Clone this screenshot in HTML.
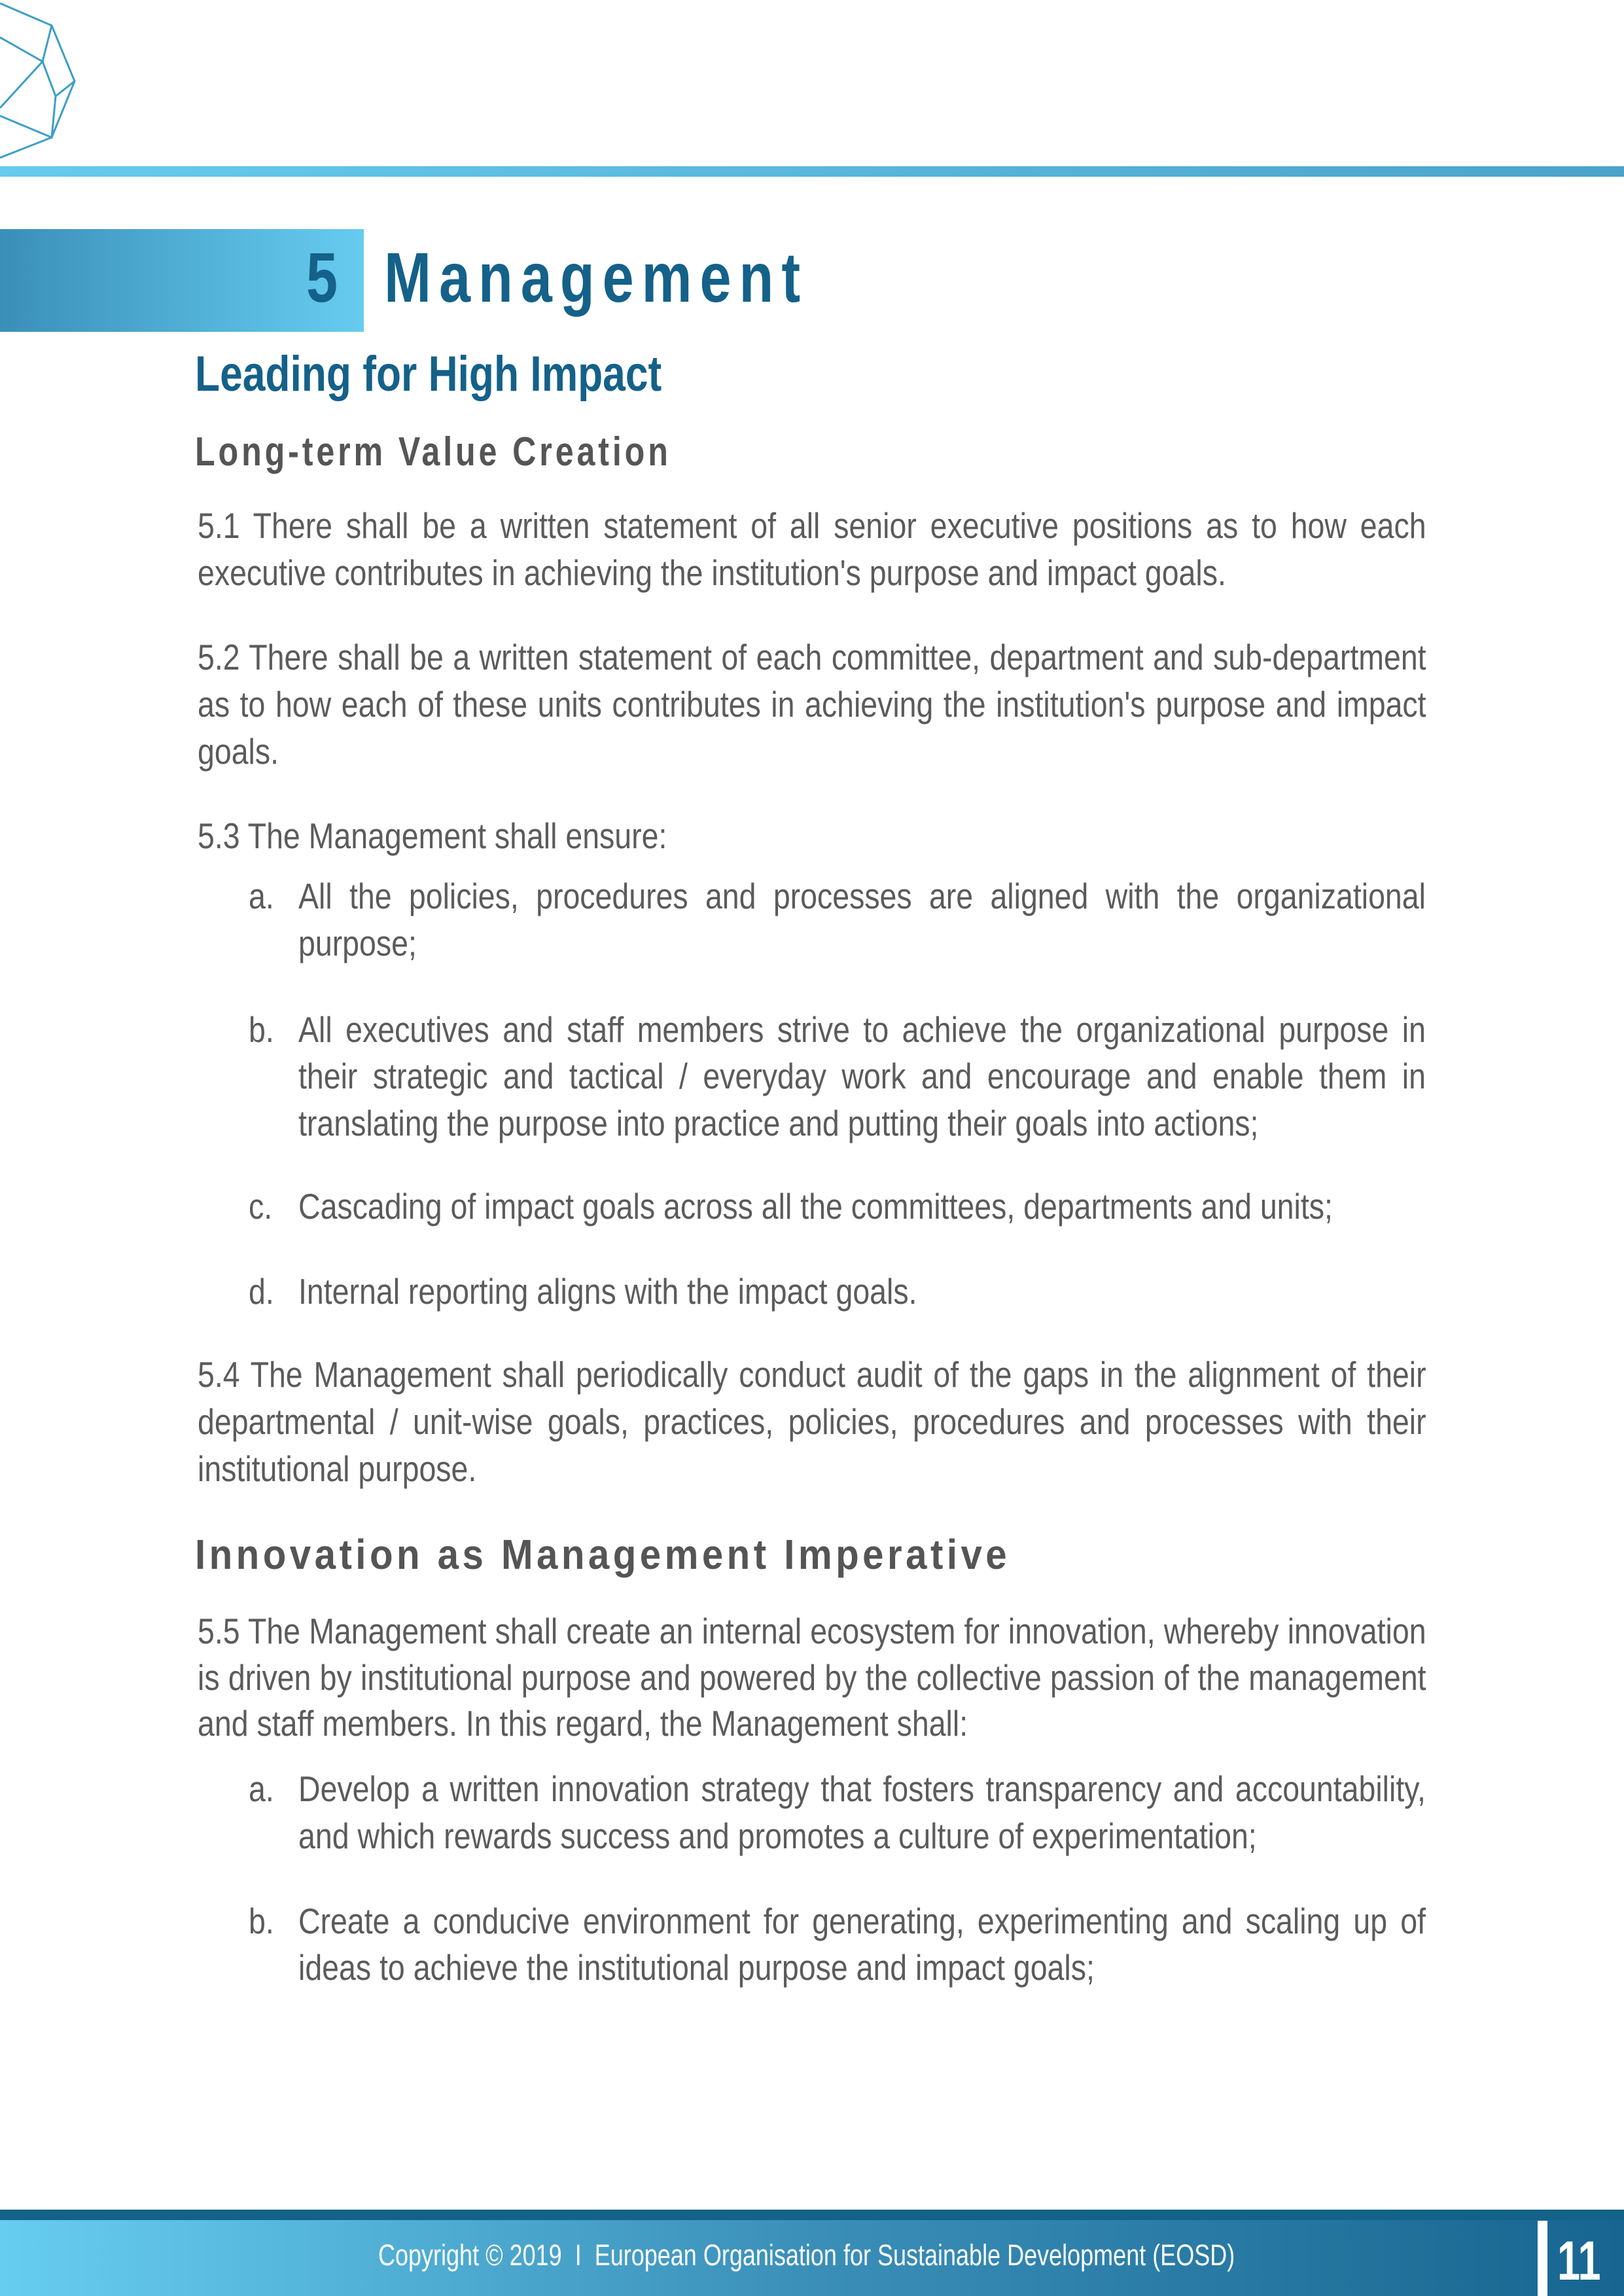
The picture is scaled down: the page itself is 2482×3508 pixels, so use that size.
<!DOCTYPE html>
<html><head><meta charset="utf-8">
<style>
html,body{margin:0;padding:0;}
body{width:2482px;height:3508px;position:relative;overflow:hidden;background:#fff;font-family:"Liberation Sans",sans-serif;}
.abs{position:absolute;}
.ln{position:absolute;left:302px;font-size:55px;line-height:55px;color:#5b5b5b;white-space:nowrap;transform:scaleX(0.845);transform-origin:0 0;margin-top:-7px;}
.j{width:2222px;text-align:justify;text-align-last:justify;white-space:normal;}
.ind{left:456px;}
.indj{width:2039px;}
.lbl{position:absolute;left:380px;font-size:55px;line-height:55px;color:#5b5b5b;transform:scaleX(0.845);transform-origin:0 0;margin-top:-7px;}
.h3{position:absolute;left:298px;font-weight:bold;color:#555;white-space:nowrap;transform-origin:0 0;}
</style></head><body>
<svg class="abs" style="left:0;top:0" width="130" height="250">
<g fill="none" stroke="#3d9fc6" stroke-width="3">
<polyline points="0,5 79,39 114,124 79,210 0,241"/>
<polyline points="0,57 65,94 0,165"/>
<polyline points="79,39 65,94 85,147 79,210 0,177"/>
<line x1="85" y1="147" x2="114" y2="124"/>
</g></svg>
<div class="abs" style="left:0;top:254px;width:2482px;height:16px;background:linear-gradient(90deg,#66cbee,#4aa3cb);"></div>
<div class="abs" style="left:0;top:350px;width:556px;height:157px;background:linear-gradient(90deg,#3a8fb8,#66ccef);"></div>
<div class="abs" style="left:468px;top:364px;font-size:108px;line-height:120px;font-weight:bold;color:#146189;transform:scaleX(0.8);transform-origin:0 0;">5</div>
<div class="abs" style="left:587px;top:364px;font-size:108px;line-height:120px;font-weight:bold;color:#146189;letter-spacing:15px;white-space:nowrap;transform:scaleX(0.8);transform-origin:0 0;">Management</div>
<div class="h3" style="top:534px;font-size:76px;line-height:76px;color:#146189;transform:scaleX(0.82);">Leading for High Impact</div>
<div class="h3" style="top:660px;font-size:62px;line-height:62px;letter-spacing:6px;transform:scaleX(0.81);">Long-term Value Creation</div>

<div class="ln j" style="top:783px">5.1 There shall be a written statement of all senior executive positions as to how each</div>
<div class="ln" style="top:855px">executive contributes in achieving the institution's purpose and impact goals.</div>

<div class="ln j" style="top:984px">5.2 There shall be a written statement of each committee, department and sub-department</div>
<div class="ln j" style="top:1056px">as to how each of these units contributes in achieving the institution's purpose and impact</div>
<div class="ln" style="top:1128px">goals.</div>

<div class="ln" style="top:1257px">5.3 The Management shall ensure:</div>
<div class="lbl" style="top:1349px">a.</div>
<div class="ln j ind indj" style="top:1349px">All the policies, procedures and processes are aligned with the organizational</div>
<div class="ln ind" style="top:1421px">purpose;</div>
<div class="lbl" style="top:1553px">b.</div>
<div class="ln j ind indj" style="top:1553px">All executives and staff members strive to achieve the organizational purpose in</div>
<div class="ln j ind indj" style="top:1624px">their strategic and tactical / everyday work and encourage and enable them in</div>
<div class="ln ind" style="top:1696px">translating the purpose into practice and putting their goals into actions;</div>
<div class="lbl" style="top:1823px">c.</div>
<div class="ln ind" style="top:1823px">Cascading of impact goals across all the committees, departments and units;</div>
<div class="lbl" style="top:1953px">d.</div>
<div class="ln ind" style="top:1953px">Internal reporting aligns with the impact goals.</div>

<div class="ln j" style="top:2080px">5.4 The Management shall periodically conduct audit of the gaps in the alignment of their</div>
<div class="ln j" style="top:2152px">departmental / unit-wise goals, practices, policies, procedures and processes with their</div>
<div class="ln" style="top:2224px">institutional purpose.</div>

<div class="h3" style="top:2343px;font-size:64px;line-height:64px;letter-spacing:6px;transform:scaleX(0.91);">Innovation as Management Imperative</div>

<div class="ln j" style="top:2472px">5.5 The Management shall create an internal ecosystem for innovation, whereby innovation</div>
<div class="ln j" style="top:2543px">is driven by institutional purpose and powered by the collective passion of the management</div>
<div class="ln" style="top:2613px">and staff members. In this regard, the Management shall:</div>
<div class="lbl" style="top:2713px">a.</div>
<div class="ln j ind indj" style="top:2713px">Develop a written innovation strategy that fosters transparency and accountability,</div>
<div class="ln ind" style="top:2785px">and which rewards success and promotes a culture of experimentation;</div>
<div class="lbl" style="top:2915px">b.</div>
<div class="ln j ind indj" style="top:2915px">Create a conducive environment for generating, experimenting and scaling up of</div>
<div class="ln ind" style="top:2986px">ideas to achieve the institutional purpose and impact goals;</div>

<div class="abs" style="left:0;top:3376px;width:2482px;height:16px;background:#146189;"></div>
<div class="abs" style="left:0;top:3392px;width:2482px;height:116px;background:linear-gradient(90deg,#66cdf0,#3a8fb8 50%,#176590);"></div>
<div class="abs" style="left:578px;top:3423px;font-size:45px;line-height:45px;color:#fff;white-space:pre;transform:scaleX(0.8);transform-origin:0 0;">Copyright © 2019  I  European Organisation for Sustainable Development (EOSD)</div>
<div class="abs" style="left:2350px;top:3393px;width:15px;height:115px;background:#fff;"></div>
<div class="abs" style="left:2380px;top:3412px;font-size:84px;line-height:84px;font-weight:bold;color:#fff;transform:scaleX(0.75);transform-origin:0 0;">11</div>
</body></html>
